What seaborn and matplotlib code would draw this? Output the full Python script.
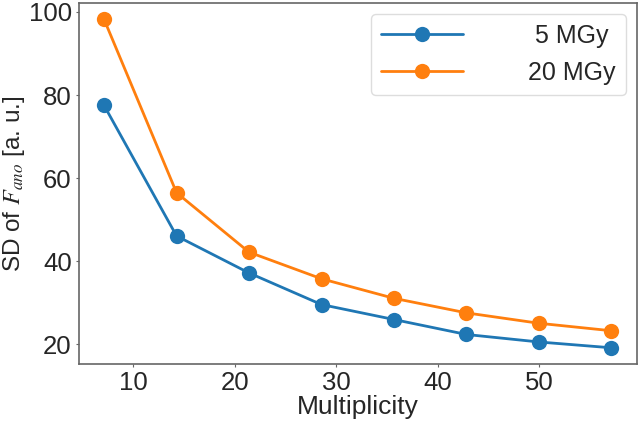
import matplotlib
matplotlib.use("Agg")
import matplotlib.pyplot as plt
import pandas as pd
import seaborn as sns

# data
multiplicity = [7.14, 14.28, 21.42, 28.56, 35.7, 42.84, 49.98, 57.12]
sd_5mgy = [77.5, 46.1, 37.2, 29.6, 26.0, 22.4, 20.6, 19.2]
sd_20mgy = [98.2, 56.5, 42.2, 35.8, 31.1, 27.6, 25.1, 23.3]
labels = [" 5 MGy", "20 MGy"]
colors = ["#1f77b4", "#ff7f0e"]

sns.set_style("ticks")
plt.rcParams["font.family"] = ["Liberation Sans", "DejaVu Sans"]
plt.rcParams["mathtext.fontset"] = "stix"

df = pd.DataFrame({"x": multiplicity, "a": sd_5mgy, "b": sd_20mgy})

fig = plt.figure(figsize=(6.4, 4.24), dpi=100)
ax = fig.add_axes([0.123, 0.141, 0.872, 0.852])

sns.lineplot(data=df, x="x", y="a", marker="o", markersize=11, linewidth=2,
             color=colors[0], markeredgewidth=0, label=labels[0], ax=ax)
sns.lineplot(data=df, x="x", y="b", marker="o", markersize=11, linewidth=2,
             color=colors[1], markeredgewidth=0, label=labels[1], ax=ax)

ax.set_xlabel("Multiplicity", fontsize=19, labelpad=0)
ax.set_ylabel("SD of $F_{ano}$ [a. u.]", fontsize=17.5, labelpad=1)
ax.set_xticks([10, 20, 30, 40, 50])
ax.set_yticks([20, 40, 60, 80, 100])
ax.tick_params(labelsize=18.5, length=2.5, pad=2.5, color="#666666")
for s in ax.spines.values():
    s.set_color("#666666")
    s.set_linewidth(1.2)

ax.legend(loc="upper right", fontsize=18, handlelength=3.3, handletextpad=2.6,
          borderaxespad=0.45, edgecolor="#dddddd", framealpha=1)

fig.savefig("out.png", dpi=100)
